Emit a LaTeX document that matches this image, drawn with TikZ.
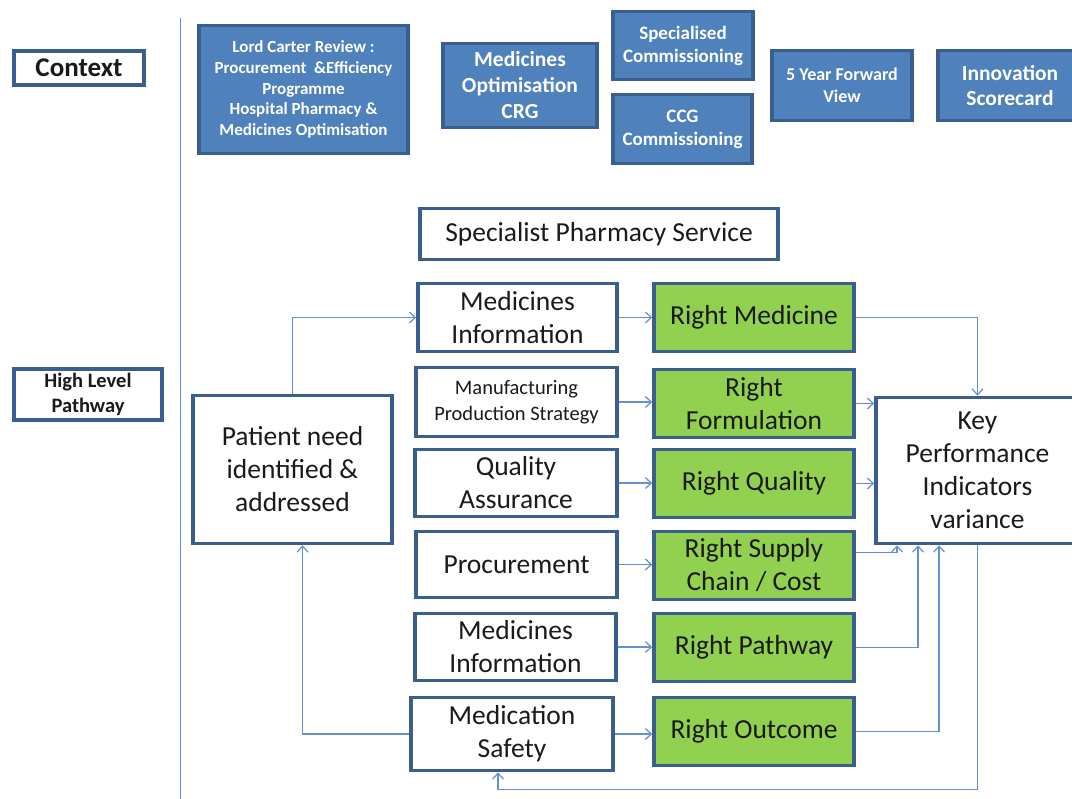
\documentclass[tikz,border=0pt]{standalone}
\usepackage{fontspec}
\setmainfont{Carlito}
\usetikzlibrary{arrows.meta,calc}
\definecolor{bordblue}{HTML}{3A5F8E}
\definecolor{fillblue}{HTML}{4F81BD}
\definecolor{linkblue}{HTML}{6690CC}
\definecolor{rightgreen}{HTML}{92D050}
\definecolor{txt}{HTML}{1A1A1A}
\tikzset{
  base/.style={draw=bordblue,line width=3.6pt,align=center,inner sep=1pt,text=txt},
  ctxbox/.style={base,fill=fillblue,text=white,font=\bfseries},
  wbox/.style={base,fill=white,font=\fontsize{27.5}{33}\selectfont},
  gbox/.style={base,fill=rightgreen,font=\fontsize{27.5}{33}\selectfont,minimum width=200,minimum height=68},
  lbox/.style={base,fill=white,font=\bfseries},
  link/.style={draw=linkblue,line width=1.4pt,-{Straight Barb[length=6pt,width=11pt,line width=1.2pt]}},
  plain/.style={draw=linkblue,line width=1.4pt}
}
\begin{document}
\begin{tikzpicture}[x=1pt,y=-1pt]
\useasboundingbox (0,0) rectangle (1072,799);
\begin{scope}
\clip (0,0) rectangle (1072,799);
% left separator
\draw[draw=linkblue,line width=1.6pt] (180.5,18) -- (180.5,799);
% left labels
\node[lbox,minimum width=130,minimum height=34,font=\bfseries\fontsize{27}{30}\selectfont] (context) at (79,68) {Context};
\node[lbox,minimum width=148,minimum height=51,font=\bfseries\fontsize{20.5}{25}\selectfont] (hlp) at (88,394.5) {High Level\\Pathway};
% context boxes
\node[ctxbox,minimum width=209,minimum height=128,font=\bfseries\fontsize{17}{20.6}\selectfont] (carter) at (303.5,89.5) {Lord Carter Review :\\Procurement \ \&Efficiency\\Programme\\Hospital Pharmacy \&\\Medicines Optimisation};
\node[ctxbox,minimum width=154,minimum height=84,font=\bfseries\fontsize{21.5}{26}\selectfont] (crg) at (520,85.5) {Medicines\\Optimisation\\CRG};
\node[ctxbox,minimum width=140,minimum height=68,font=\bfseries\fontsize{19}{23}\selectfont] (spec) at (683,45.5) {Specialised\\Commissioning};
\node[ctxbox,minimum width=139,minimum height=69,font=\bfseries\fontsize{19}{23}\selectfont] (ccg) at (682.5,129) {CCG\\Commissioning};
\node[ctxbox,minimum width=140,minimum height=70,font=\bfseries\fontsize{18}{21.5}\selectfont] (fyfv) at (842,85.5) {5 Year Forward\\View};
\node[ctxbox,minimum width=144,minimum height=70,font=\bfseries\fontsize{21.5}{25}\selectfont] (innov) at (1010,85.5) {Innovation\\Scorecard};
% pathway
\node[wbox,minimum width=358,minimum height=51] (sps) at (599,234) {Specialist Pharmacy Service};
\node[wbox,minimum width=199,minimum height=148] (patient) at (292.5,469.5) {Patient need\\identified \&\\addressed};
\node[wbox,minimum width=199,minimum height=68] (mi1) at (517.5,317.5) {Medicines\\Information};
\node[wbox,minimum width=201,minimum height=69,font=\fontsize{20.5}{26}\selectfont] (mps) at (516.5,402) {Manufacturing\\Production Strategy};
\node[wbox,minimum width=202,minimum height=67] (qa) at (516,483) {Quality\\Assurance};
\node[wbox,minimum width=201,minimum height=66] (proc) at (516.5,564.5) {Procurement};
\node[wbox,minimum width=201,minimum height=67] (mi2) at (515.5,647) {Medicines\\Information};
\node[wbox,minimum width=202,minimum height=73] (ms) at (512,734) {Medication\\Safety};
\node[gbox] (rm) at (754,317.5) {Right Medicine};
\node[gbox] (rf) at (754,403.5) {Right\\Formulation};
\node[gbox] (rq) at (754,483.5) {Right Quality};
\node[gbox] (rsc) at (754,565.5) {Right Supply\\Chain / Cost};
\node[gbox] (rp) at (754,647.5) {Right Pathway};
\node[gbox] (ro) at (754,731.5) {Right Outcome};
\node[wbox,minimum width=203,minimum height=146] (kpi) at (977.5,470.5) {Key\\Performance\\Indicators\\variance};
% connectors
\draw[link] (patient.north) |- (mi1.west);
\draw[link] (ms.west) -| ([xshift=10pt]patient.south);
\draw[link] (mi1.east) -- (rm.west);
\draw[link] (mps.east) -- (mps.east -| rf.west);
\draw[link] (qa.east) -- (qa.east -| rq.west);
\draw[link] (proc.east) -- (proc.east -| rsc.west);
\draw[link] (mi2.east) -- (mi2.east -| rp.west);
\draw[link] (ms.east) -- (ms.east -| ro.west);
\draw[link] (rm.east) -| (kpi.north);
\draw[link] (rf.east) -- (rf.east -| kpi.west);
\draw[link] (rq.east) -- (rq.east -| kpi.west);
\coordinate (a1) at ([yshift=13pt]rsc.east);
\coordinate (b1) at ([xshift=-80.5pt]kpi.south);
\draw[link] (a1) -| (b1);
\coordinate (b2) at ([xshift=-59.5pt]kpi.south);
\draw[link] (rp.east) -| (b2);
\coordinate (b3) at ([xshift=-38.5pt]kpi.south);
\draw[link] (ro.east) -| (b3);
\coordinate (c1) at ($(kpi.south)+(0,244)$);
\coordinate (c2) at ([xshift=-14pt]ms.south);
\draw[link] (kpi.south) -- (c1) -| (c2);
\end{scope}
\end{tikzpicture}
\end{document}
